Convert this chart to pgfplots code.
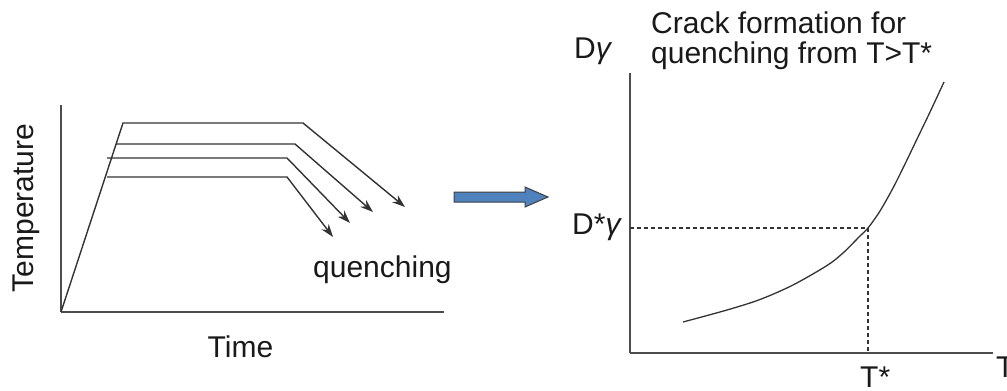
\documentclass[border=0pt]{standalone}
\usepackage{fontspec}
\setmainfont{Liberation Sans}
\usepackage{pgfplots}
\pgfplotsset{compat=1.18}
\usetikzlibrary{arrows.meta}

\definecolor{arrowblue}{HTML}{4F81BD}
\definecolor{ink}{HTML}{333333}
\newcommand{\g}{{\itshape γ}}

\begin{document}
\begin{tikzpicture}[x=1bp,y=1bp,
    lbl/.style={inner sep=0pt, text=black!90, font=\fontsize{30bp}{36bp}\selectfont}]
\path[use as bounding box] (0,0) rectangle (1007,390);

% left: heat treatment schedules
\begin{axis}[
    at={(61bp,78bp)}, anchor=south west,
    scale only axis, width=383bp, height=207bp,
    xmin=0, xmax=383, ymin=0, ymax=207,
    axis lines=left,
    axis line style={-, line width=1.6bp, draw=black!70},
    xtick=\empty, ytick=\empty,
    clip=false,
]
\addplot[line width=1.4bp, draw=ink, -{Stealth[length=13bp,width=9bp]}]
    coordinates {(0,0) (62,189) (242,189) (344,105)};
\addplot[line width=1.4bp, draw=ink, -{Stealth[length=13bp,width=9bp]}]
    coordinates {(55,168) (234,168) (312,100)};
\addplot[line width=1.4bp, draw=ink, -{Stealth[length=13bp,width=9bp]}]
    coordinates {(46,154) (226,154) (289,89)};
\addplot[line width=1.4bp, draw=ink, -{Stealth[length=13bp,width=9bp]}]
    coordinates {(46,135) (226,135) (272,75)};
\end{axis}

% right: crack criterion
\begin{axis}[
    at={(630bp,37bp)}, anchor=south west,
    scale only axis, width=363bp, height=280bp,
    xmin=0, xmax=363, ymin=0, ymax=280,
    axis lines=left,
    axis line style={-, line width=1.6bp, draw=black!70},
    xtick=\empty, ytick=\empty,
    clip=false,
]
\addplot[smooth, tension=0.5, line width=1.3bp, draw=ink]
    coordinates {(53,31) (97,43) (130,53.5) (163,68) (197,87.5) (213,100)
                 (230,117) (238,125) (250,142) (263,165) (275,189) (287,214)
                 (300,241) (314,271)};
\addplot[line width=1.1bp, draw=ink, dash pattern=on 4bp off 3bp]
    coordinates {(0,125) (238,125) (238,0)};
\end{axis}

% block arrow between panels
\draw[fill=arrowblue, draw=black!75, line width=1bp, line join=miter]
    (454,188) -- (525,188) -- (525,183) -- (548,193) -- (525,203) -- (525,198) -- (454,198) -- cycle;

\node[lbl, rotate=90, anchor=base] at (33.5,182) {Temperature};
\node[lbl, anchor=base] at (240.5,33) {Time};
\node[lbl, anchor=base west] at (313,113) {quenching};
\node[lbl, anchor=base west] at (651,357) {Crack formation for};
\node[lbl, anchor=base west] at (651,327) {quenching from T>T*};
\node[lbl, anchor=base west] at (574,332) {D\g};
\node[lbl, anchor=base west] at (572,156) {D*\g};
\node[lbl, anchor=base west] at (860,3) {T*};
\node[lbl, anchor=base west] at (996,13) {T};
\end{tikzpicture}
\end{document}
